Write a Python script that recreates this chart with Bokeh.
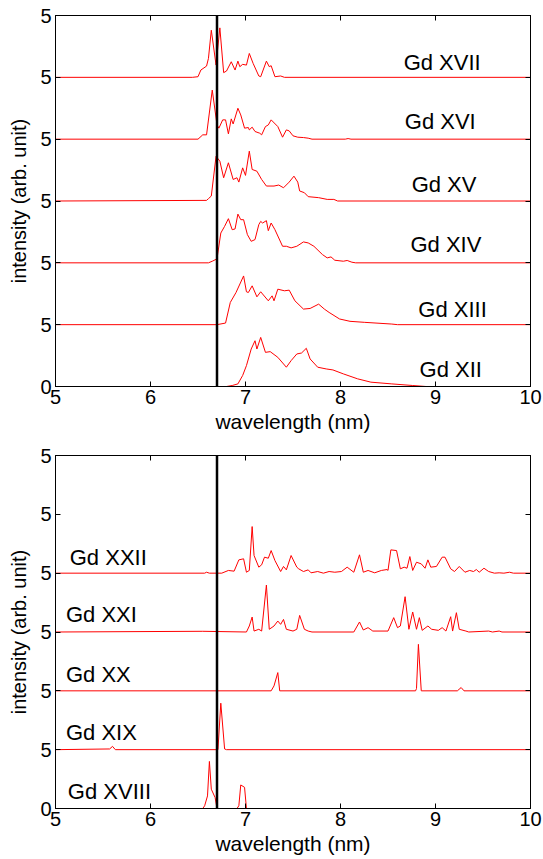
from bokeh.plotting import figure
from bokeh.layouts import column
from bokeh.models import LinearAxis, FixedTicker, Span, Range1d
from bokeh.core.properties import value
from bokeh.embed import file_html
from bokeh.resources import INLINE

FONT = "Liberation Sans"

x_ticks = [5, 6, 7, 8, 9, 10]
y_ticks = [0, 5, 10, 15, 20, 25, 30]
y_tick_labels = ["0", "5", "5", "5", "5", "5", "5"]
marker_nm = 6.7

# ---- top panel: Gd XII .. Gd XVII ----
top_names = ["Gd XII", "Gd XIII", "Gd XIV", "Gd XV", "Gd XVI", "Gd XVII"]
top_offsets = [0, 5, 10, 15, 20, 25]
top_label_x = [9.16, 9.18, 9.11, 9.09, 9.05, 9.07]
top_label_y = [1.4, 6.25, 11.5, 16.3, 21.4, 26.2]

gd12_x = [5.0, 6.80, 6.86, 6.92, 6.97, 7.01, 7.06, 7.10, 7.12, 7.16, 7.21, 7.26, 7.34, 7.43, 7.48, 7.54, 7.59, 7.64, 7.68, 7.76, 7.85, 7.92, 8.03, 8.18, 8.32, 8.54, 8.76, 8.90, 10.0]
gd12_y = [0, 0, 0.08, 0.21, 0.89, 1.69, 3.03, 3.70, 3.03, 3.97, 2.76, 2.82, 2.36, 1.56, 2.09, 2.63, 2.71, 3.09, 2.23, 1.56, 1.42, 1.34, 1.02, 0.62, 0.35, 0.21, 0.08, 0, 0]

gd13_x = [5.0, 6.70, 6.79, 6.84, 6.90, 6.98, 7.01, 7.03, 7.07, 7.12, 7.16, 7.24, 7.28, 7.30, 7.34, 7.41, 7.46, 7.52, 7.61, 7.68, 7.77, 7.83, 7.88, 7.99, 8.10, 8.25, 8.54, 8.60, 10.0]
gd13_y = [0, 0, 0.13, 1.80, 2.60, 3.94, 2.66, 2.60, 3.14, 2.25, 2.66, 1.93, 2.33, 1.93, 2.87, 2.74, 2.79, 1.93, 1.26, 1.31, 1.66, 1.26, 0.99, 0.46, 0.27, 0.19, 0.05, 0, 0]

gd14_x = [5.0, 6.61, 6.65, 6.70, 6.74, 6.78, 6.82, 6.86, 6.89, 6.92, 6.95, 6.98, 7.02, 7.06, 7.10, 7.14, 7.16, 7.18, 7.22, 7.24, 7.27, 7.31, 7.39, 7.43, 7.48, 7.54, 7.61, 7.66, 7.72, 7.81, 7.86, 7.90, 7.94, 8.03, 8.07, 8.12, 8.16, 10.0]
gd14_y = [0, 0, 0.13, 0.32, 2.41, 2.95, 3.57, 2.68, 2.74, 3.94, 3.49, 3.49, 2.28, 1.74, 1.88, 3.09, 3.35, 3.22, 3.41, 2.60, 3.22, 2.68, 1.34, 1.34, 1.21, 1.34, 1.69, 1.61, 1.34, 0.67, 0.40, 0.48, 0.21, 0.13, 0.19, 0.05, 0, 0]

gd15_x = [5.0, 6.59, 6.61, 6.64, 6.69, 6.73, 6.77, 6.82, 6.87, 6.91, 6.93, 6.97, 7.00, 7.04, 7.07, 7.12, 7.17, 7.22, 7.30, 7.35, 7.40, 7.46, 7.51, 7.55, 7.57, 7.62, 7.66, 7.77, 7.86, 7.93, 7.97, 10.0]
gd15_y = [0, 0.05, 0.19, 0.40, 3.62, 3.22, 1.88, 3.09, 1.74, 1.88, 1.53, 2.68, 2.07, 4.03, 2.55, 2.41, 1.74, 1.21, 1.21, 1.29, 1.07, 1.53, 2.01, 1.53, 0.81, 0.67, 0.35, 0.27, 0.13, 0.13, 0, 0]

gd16_x = [5.0, 6.50, 6.55, 6.59, 6.65, 6.70, 6.72, 6.76, 6.79, 6.82, 6.85, 6.87, 6.92, 6.95, 6.99, 7.03, 7.04, 7.07, 7.10, 7.15, 7.17, 7.21, 7.24, 7.27, 7.34, 7.39, 7.43, 7.46, 7.50, 7.55, 7.61, 7.66, 7.70, 8.05, 8.08, 8.11, 10.0]
gd16_y = [0, 0, 0.35, 0.35, 3.97, 1.15, 0.89, 1.56, 1.56, 0.43, 1.64, 1.23, 2.50, 1.96, 0.89, 0.94, 0.75, 0.97, 0.62, 0.48, 0.35, 1.02, 1.15, 1.56, 1.02, 0.16, 0.75, 0.67, 0.27, 0.16, 0.13, 0.08, 0, 0, 0.05, 0, 0]

gd17_x = [5.0, 6.44, 6.50, 6.53, 6.59, 6.61, 6.64, 6.69, 6.73, 6.77, 6.80, 6.85, 6.89, 6.92, 6.94, 6.97, 7.01, 7.04, 7.08, 7.14, 7.16, 7.22, 7.25, 7.27, 7.31, 7.37, 7.41, 10.0]
gd17_y = [0, 0, 0.05, 0.59, 0.91, 1.53, 3.81, 0.99, 4.00, 0.38, 0.51, 1.26, 0.59, 1.31, 0.86, 1.05, 0.99, 1.93, 1.13, 0.11, 0.05, 1.31, 0.86, 0.94, 0.05, 0.11, 0, 0]

# ---- bottom panel: Gd XVIII .. Gd XXII ----
bot_names = ["Gd XVIII", "Gd XIX", "Gd XX", "Gd XXI", "Gd XXII"]
bot_offsets = [0, 5, 10, 15, 20]
bot_label_x = [5.13, 5.11, 5.11, 5.11, 5.15]
bot_label_y = [1.41, 6.45, 11.4, 16.5, 21.3]

gd18_x = [5.0, 6.55, 6.57, 6.60, 6.62, 6.64, 6.68, 6.70, 6.91, 6.93, 6.95, 6.99, 7.01, 10.0]
gd18_y = [0, 0, 0.23, 1.07, 4.00, 1.64, 0.93, 0, 0, 0.23, 2.00, 1.80, 0, 0]

gd19_x = [5.0, 5.57, 5.60, 5.63, 6.71, 6.74, 6.78, 6.80, 10.0]
gd19_y = [0, 0.06, 0.28, 0, 0, 3.95, 0.06, 0, 0]

gd20_x = [5.0, 7.27, 7.30, 7.34, 7.36, 8.79, 8.80, 8.82, 8.85, 9.23, 9.27, 9.30, 10.0]
gd20_y = [0, 0, 0.42, 1.55, 0, 0, 0.20, 3.95, 0, 0, 0.28, 0, 0]

gd21_x = [5.0, 6.55, 7.01, 7.04, 7.07, 7.09, 7.14, 7.17, 7.22, 7.25, 7.30, 7.34, 7.37, 7.40, 7.43, 7.50, 7.54, 7.57, 7.62, 7.66, 7.70, 8.14, 8.20, 8.24, 8.29, 8.34, 8.50, 8.56, 8.60, 8.63, 8.68, 8.72, 8.76, 8.80, 8.83, 8.86, 8.92, 8.96, 9.03, 9.07, 9.11, 9.16, 9.18, 9.22, 9.25, 9.32, 9.35, 9.56, 9.60, 9.67, 9.70, 10.0]
gd21_y = [0, 0.06, 0, 0.51, 1.27, 0.08, 0.23, 0.08, 3.99, 0.23, 0.51, 0.93, 0.65, 1.07, 0.23, 0.08, 0.23, 1.41, 0.23, 0.08, 0, 0, 0.85, 0.17, 0.37, 0.08, 0.08, 1.22, 0.37, 0.51, 3.00, 0.23, 1.70, 0.23, 1.22, 0.14, 0.51, 0.23, 0.14, 0.37, 0.08, 1.30, 0.08, 1.64, 0.23, 0.08, 0, 0.08, 0, 0.08, 0, 0]

gd22_x = [5.0, 6.57, 6.59, 6.62, 6.75, 6.82, 6.88, 6.93, 6.98, 7.01, 7.04, 7.07, 7.09, 7.14, 7.17, 7.20, 7.24, 7.27, 7.31, 7.37, 7.40, 7.43, 7.48, 7.54, 7.56, 7.61, 7.66, 7.69, 7.76, 7.82, 7.88, 7.94, 8.01, 8.07, 8.14, 8.20, 8.24, 8.29, 8.36, 8.43, 8.49, 8.50, 8.53, 8.59, 8.63, 8.67, 8.70, 8.73, 8.76, 8.80, 8.85, 8.89, 8.92, 8.95, 9.01, 9.07, 9.10, 9.16, 9.20, 9.25, 9.31, 9.36, 9.40, 9.43, 9.46, 9.51, 9.56, 9.62, 9.67, 9.72, 9.78, 9.82, 10.0]
gd22_y = [0, 0, 0.08, 0, 0, 0.23, 0.17, 1.13, 1.22, 0.08, 0.23, 3.96, 1.50, 0.51, 0.71, 1.36, 1.27, 1.92, 1.07, 0.14, 0.57, 0.28, 1.50, 0.51, 0.37, 0.14, 0.28, 0.03, 0.14, 0, 0.14, 0.08, 0.14, 0.51, 0.08, 1.56, 0.08, 0.23, 0.03, 0.23, 0.31, 0.23, 1.98, 1.92, 0.37, 0.51, 0.42, 1.41, 0.23, 0.93, 0.79, 0.42, 1.13, 0.51, 0.57, 1.36, 1.36, 0.37, 0.14, 0.57, 0.08, 0.23, 0.14, 0.31, 0.08, 0.42, 0.14, 0, 0.03, 0, 0.08, 0, 0]

top_series = [(gd12_x, gd12_y), (gd13_x, gd13_y), (gd14_x, gd14_y), (gd15_x, gd15_y), (gd16_x, gd16_y), (gd17_x, gd17_y)]
bot_series = [(gd18_x, gd18_y), (gd19_x, gd19_y), (gd20_x, gd20_y), (gd21_x, gd21_y), (gd22_x, gd22_y)]


def make_fig(height, b_top, b_bottom):
    p = figure(width=543, height=height, output_backend="svg", toolbar_location=None,
               x_range=Range1d(5, 10), y_range=Range1d(0, 30),
               min_border_left=55, min_border_right=13,
               min_border_top=b_top, min_border_bottom=b_bottom,
               x_axis_label="wavelength (nm)", y_axis_label="intensity (arb. unit)")
    p.grid.visible = False
    p.outline_line_color = "black"
    p.outline_line_width = 1
    p.background_fill_color = "white"
    p.border_fill_color = "white"
    for ax, ticks in ((p.xaxis[0], x_ticks), (p.yaxis[0], y_ticks)):
        ax.ticker = FixedTicker(ticks=ticks)
        ax.major_tick_in = 5
        ax.major_tick_out = 0
        ax.minor_tick_line_color = None
        ax.axis_line_color = "black"
        ax.major_tick_line_color = "black"
        ax.major_label_text_font = FONT
        ax.major_label_text_font_size = "20px"
        ax.major_label_text_color = "black"
        ax.axis_label_text_font = FONT
        ax.axis_label_text_font_style = "normal"
        ax.axis_label_text_color = "black"
    p.xaxis[0].axis_label_text_font_size = "21px"
    p.yaxis[0].axis_label_text_font_size = "20px"
    p.xaxis[0].major_label_standoff = 3
    p.xaxis[0].axis_label_standoff = 3
    p.yaxis[0].major_label_standoff = 4
    p.yaxis[0].axis_label_standoff = 7
    p.yaxis[0].major_label_overrides = {t: s for t, s in zip(y_ticks, y_tick_labels)}
    for loc, ticks in (("above", x_ticks), ("right", y_ticks)):
        ax = LinearAxis(ticker=FixedTicker(ticks=ticks), major_tick_in=5, major_tick_out=0,
                        minor_tick_line_color=None, major_label_text_font_size="1px",
                        major_label_overrides={t: "" for t in ticks},
                        major_label_standoff=0, axis_line_color="black",
                        major_tick_line_color="black")
        p.add_layout(ax, loc)
    p.add_layout(Span(location=marker_nm, dimension="height", line_color="black", line_width=2.5))
    return p


p1 = make_fig(436, 15, 50)
for (xs, ys), off in zip(top_series, top_offsets):
    p1.line([float(v) for v in xs], [v + off for v in ys], line_color="#ff0000", line_width=1)
p1.text(x=top_label_x, y=top_label_y, text=top_names, text_font=value(FONT),
        text_font_size="22px", text_align="center", text_baseline="middle", text_color="black")

p2 = make_fig(422, 19, 50)
for (xs, ys), off in zip(bot_series, bot_offsets):
    p2.line([float(v) for v in xs], [v + off for v in ys], line_color="#ff0000", line_width=1)
p2.text(x=bot_label_x, y=bot_label_y, text=bot_names, text_font=value(FONT),
        text_font_size="22px", text_align="left", text_baseline="middle", text_color="black")

layout = column(p1, p2, spacing=0)
open("out.html", "w").write(file_html(layout, INLINE))
